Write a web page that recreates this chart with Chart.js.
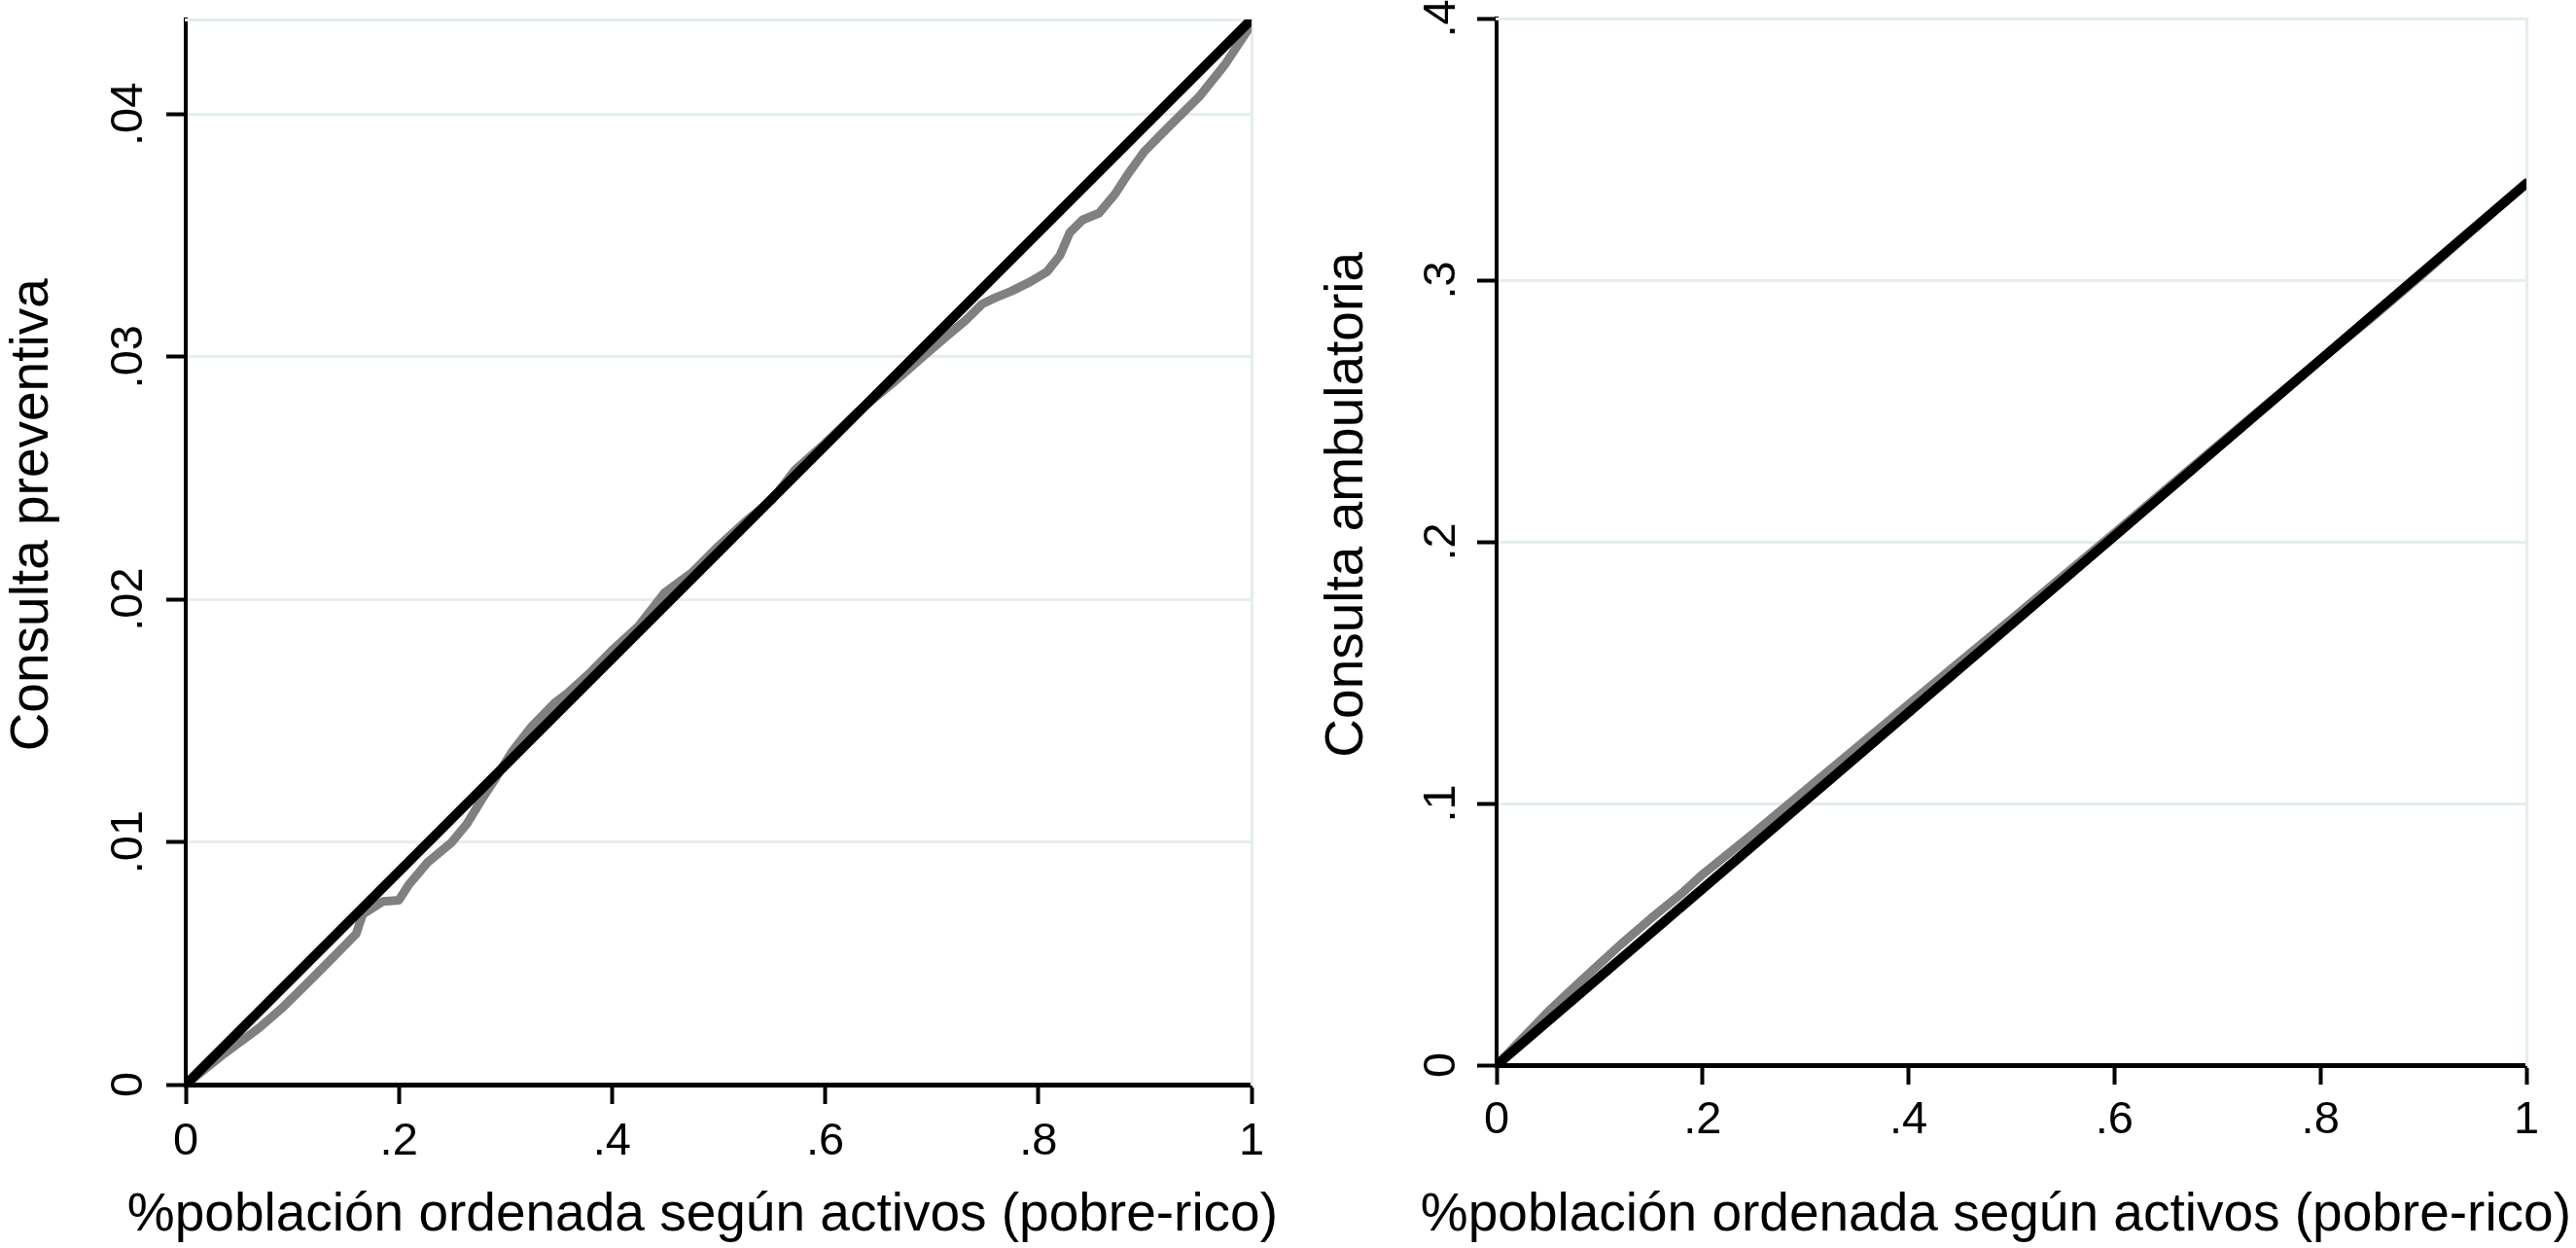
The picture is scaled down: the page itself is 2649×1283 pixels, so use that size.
<!DOCTYPE html>
<html>
<head>
<meta charset="utf-8">
<title>Curvas de concentración</title>
<script src="https://cdn.jsdelivr.net/npm/chart.js@4.4.1/dist/chart.umd.min.js"></script>
<style>
    html, body { margin: 0; padding: 0; background: #fff; overflow: hidden; }
    canvas { position: absolute; top: 0; }
    #grafPrev { left: 0; }
    #grafAmb { left: 1330px; }
</style>
</head>
<body>
<canvas id="grafPrev" width="1320" height="1283"></canvas>
<canvas id="grafAmb" width="1319" height="1283"></canvas>
<script>
// ejes comunes
const xTicks = [0, 0.2, 0.4, 0.6, 0.8, 1];
const xTickLabels = ['0', '.2', '.4', '.6', '.8', '1'];
const xTitulo = '%población ordenada según activos (pobre-rico)';

// consulta preventiva
const prevTicks = [0, 0.01, 0.02, 0.03, 0.04];
const prevTickLabels = ['0', '.01', '.02', '.03', '.04'];
const prevMax = 0.0439;
const prevX = [0, 0.036, 0.069, 0.09, 0.118, 0.13, 0.148, 0.16, 0.166, 0.185, 0.2, 0.209, 0.227, 0.249,
    0.264, 0.279, 0.291, 0.306, 0.325, 0.346, 0.358, 0.38, 0.4, 0.425, 0.449, 0.475, 0.5, 0.525, 0.55,
    0.571, 0.6, 0.63, 0.665, 0.6925, 0.7135, 0.7318, 0.7473, 0.7594, 0.7746, 0.7929, 0.8081, 0.8203,
    0.8294, 0.8415, 0.8567, 0.872, 0.8838, 0.8993, 0.9206, 0.951, 0.9754, 1];
const prevY = [0, 0.00127, 0.00234, 0.00314, 0.00435, 0.00488, 0.00568, 0.00622, 0.00702, 0.00755, 0.0076,
    0.00822, 0.00916, 0.00996, 0.01076, 0.01184, 0.01264, 0.01371, 0.01478, 0.01572, 0.01612, 0.017, 0.0179,
    0.0189, 0.02026, 0.0211, 0.0222, 0.0232, 0.0241, 0.0253, 0.02644, 0.0277, 0.02897, 0.03003, 0.03083,
    0.0315, 0.03217, 0.03243, 0.0327, 0.0331, 0.0335, 0.03418, 0.03511, 0.03564, 0.03591, 0.03671, 0.03751,
    0.03845, 0.0394, 0.04072, 0.04206, 0.0437];
const prevIgualX = [0, 1];
const prevIgualY = [0, 0.0439];

// consulta ambulatoria
const ambTicks = [0, 0.1, 0.2, 0.3, 0.4];
const ambTickLabels = ['0', '.1', '.2', '.3', '.4'];
const ambMax = 0.4;
const ambX = [0, 0.05, 0.08, 0.1, 0.12, 0.15, 0.18, 0.2, 0.25, 0.3, 0.35, 0.4, 0.45, 0.5, 0.55, 0.6,
    0.65, 0.7, 0.75, 0.8, 0.85, 0.9, 0.95, 1];
const ambY = [0, 0.0204, 0.0315, 0.0387, 0.0459, 0.0561, 0.0657, 0.0729, 0.0888, 0.1051, 0.1215, 0.1378,
    0.1542, 0.1705, 0.1869, 0.2034, 0.2201, 0.2367, 0.2533, 0.2696, 0.2857, 0.3025, 0.3199, 0.337];
const ambIgualX = [0, 1];
const ambIgualY = [0, 0.337];

const fuente = "'Liberation Sans', Arial, Helvetica, sans-serif";
const colorRejilla = '#e4edef';

function puntos(xs, ys) {
    return xs.map((x, i) => ({ x: x, y: ys[i] }));
}

// crear un panel
function crearGrafico(id, curvaX, curvaY, igualX, igualY, yTicks, yLabels, yMax, yTitulo, m) {
    const ctx = document.getElementById(id).getContext('2d');
    return new Chart(ctx, {
        type: 'line',
        data: {
            datasets: [{
                data: puntos(igualX, igualY),
                borderColor: '#000',
                borderWidth: 10,
                borderCapStyle: 'round',
                pointRadius: 0
            }, {
                data: puntos(curvaX, curvaY),
                borderColor: '#808080',
                borderWidth: 9,
                borderJoinStyle: 'round',
                pointRadius: 0
            }]
        },
        options: {
            responsive: false,
            devicePixelRatio: 1,
            animation: false,
            layout: { padding: { left: 0, top: m.arriba, right: m.derecha, bottom: 0 } },
            plugins: {
                legend: { display: false },
                tooltip: { enabled: false },
                title: {
                    display: true,
                    position: 'bottom',
                    align: 'end',
                    text: xTitulo,
                    color: '#000',
                    font: { family: fuente, size: 55, weight: 'normal' },
                    padding: 0
                }
            },
            scales: {
                x: {
                    type: 'linear', min: 0, max: 1, position: 'bottom',
                    afterBuildTicks: s => { s.ticks = xTicks.map(v => ({ value: v })); },
                    afterFit: s => { s.height = m.xAlto; s.paddingLeft = 0; s.paddingRight = 0; },
                    ticks: {
                        callback: (v, i) => xTickLabels[i],
                        autoSkip: false, maxRotation: 0, minRotation: 0,
                        color: '#000', padding: m.xPad,
                        font: { family: fuente, size: 47 }
                    },
                    grid: { drawOnChartArea: false, drawTicks: true, tickLength: 20, tickColor: '#000', tickWidth: 4 },
                    border: { color: '#000', width: 5 }
                },
                y: {
                    type: 'linear', min: 0, max: yMax, position: 'left',
                    afterBuildTicks: s => { s.ticks = yTicks.map(v => ({ value: v })); },
                    afterFit: s => { s.width = m.yAncho; s.paddingTop = 0; s.paddingBottom = 0; },
                    ticks: {
                        callback: (v, i) => yLabels[i],
                        autoSkip: false, minRotation: 90, maxRotation: 90, crossAlign: 'center',
                        color: '#000', padding: m.yPad,
                        font: { family: fuente, size: 47 }
                    },
                    grid: {
                        color: c => (c.tick && c.tick.value === 0) ? 'rgba(0,0,0,0)' : colorRejilla,
                        lineWidth: 3, tickLength: 20, tickColor: '#000', tickWidth: 4
                    },
                    border: { color: '#000', width: 4 },
                    title: {
                        display: true, text: yTitulo, color: '#000',
                        font: { family: fuente, size: 55 },
                        padding: { top: m.yTitPad, bottom: 0 }
                    }
                },
                // borde claro arriba y a la derecha
                x2: {
                    type: 'linear', min: 0, max: 1, position: 'top',
                    afterFit: s => { s.height = 0; s.paddingLeft = 0; s.paddingRight = 0; },
                    ticks: { display: false },
                    grid: { display: false },
                    border: { color: colorRejilla, width: 3 }
                },
                y2: {
                    type: 'linear', min: 0, max: yMax, position: 'right',
                    afterFit: s => { s.width = m.y2Ancho; s.paddingTop = 0; s.paddingBottom = 0; },
                    ticks: { display: false },
                    grid: { display: false },
                    border: { color: colorRejilla, width: 3 }
                }
            }
        }
    });
}

crearGrafico('grafPrev', prevX, prevY, prevIgualX, prevIgualY, prevTicks, prevTickLabels, prevMax,
    '     Consulta preventiva',
    { arriba: 20, derecha: 6, xAlto: 102, yAncho: 191, y2Ancho: 27, xPad: 11, yPad: 5, yTitPad: 1 });

crearGrafico('grafAmb', ambX, ambY, ambIgualX, ambIgualY, ambTicks, ambTickLabels, ambMax,
    '     Consulta ambulatoria',
    { arriba: 19, derecha: 5, xAlto: 122, yAncho: 209, y2Ancho: 46, xPad: 9, yPad: 16, yTitPad: 23 });
</script>
</body>
</html>
